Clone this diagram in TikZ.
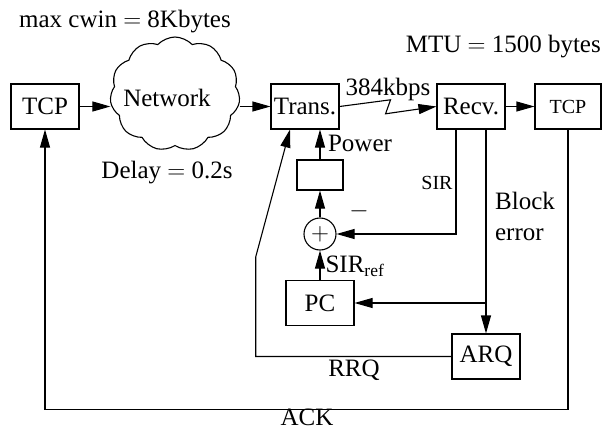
\documentclass[tikz,border=0pt]{standalone}
\usepackage{fontspec}
\setmainfont{Liberation Serif}
\usetikzlibrary{arrows.meta,shapes.symbols}
\tikzset{
  lnk/box/.style={
    draw,
    line width=1.1pt,
    align=center,
    minimum width=68pt,
    minimum height=45pt,
    inner sep=0pt,
    font=\fontsize{25}{28}\selectfont
  },
  lnk/smallbox/.style={lnk/box, font=\fontsize{20}{22}\selectfont},
  lnk/sum/.style={circle, draw, line width=1.1pt, minimum size=32pt, inner sep=0pt,
    font=\fontsize{30}{30}\selectfont},
  lnk/cloud/.style={cloud, cloud puffs=11, cloud puff arc=95, aspect=1.2, draw, line width=1.1pt,
    minimum width=130pt, minimum height=114pt, inner sep=0pt},
  lnk/arrow/.style={-{Triangle[length=18pt,width=10pt]}, line width=1.1pt},
  lnk/line/.style={line width=1.1pt},
  lnk/label/.style={font=\fontsize{25}{31}\selectfont, inner sep=0pt, align=left},
  lnk/smalllabel/.style={font=\fontsize{20}{22}\selectfont, inner sep=0pt}
}
\begin{document}
\begin{tikzpicture}[x=1pt,y=-1pt]
  \useasboundingbox (0,0) rectangle (603,431);
  % blocks
  \node[lnk/box] (tcpl) at (45,106.5) {TCP};
  \node[lnk/cloud] (net) at (175,94) {};
  \node[lnk/label] (nettext) at (167,98) {Network};
  \node[lnk/box] (trans) at (305,106.5) {Trans.};
  \node[lnk/box] (recv) at (471,106.5) {Recv.};
  \node[lnk/smallbox,minimum width=66pt] (tcpr) at (568,106.5) {TCP};
  \node[lnk/box,minimum width=46pt,minimum height=30pt] (gain) at (320,175) {};
  \node[lnk/sum] (sum) at (320,234) {$+$};
  \node[lnk/box] (pc) at (320,303) {PC};
  \node[lnk/box] (arq) at (486,356.5) {ARQ};
  \coordinate (rrqbend) at (255.7,257);
  \coordinate (ackbot) at (307,409.3);
  % labels
  \node[lnk/label] (cwin) at (125,22) {max cwin $=$ 8Kbytes};
  \node[lnk/label,anchor=east] (mtu) at (601,47) {MTU $=$ 1500 bytes};
  \node[lnk/label] (delay) at (167,173) {Delay $=$ 0.2s};
  \node[lnk/label] (rate) at (388,89) {384kbps};
  \node[lnk/label] (power) at (360,143) {Power};
  \node[lnk/smalllabel] (sir) at (437,183) {SIR};
  \node[lnk/label] (minus) at (359,211) {$-$};
  \node[lnk/label] (sirref) at (355,266) {SIR\textsubscript{ref}};
  \node[lnk/label] (blockerr) at (525,216) {Block\\error};
  \node[lnk/label] (rrq) at (354,370) {RRQ};
  \node[lnk/label] (ack) at (307,417) {ACK};
  % connectors
  \draw[lnk/arrow] (tcpl.east) -- (tcpl.east -| net.west);
  \draw[lnk/arrow] (trans.west -| net.east) -- (trans.west);
  \draw[lnk/arrow] (trans.east) -- ++(51,-6.7) -- ++(-5,14) -- (recv.west);
  \draw[lnk/arrow] (recv) -- (tcpr);
  \draw[lnk/arrow] (gain.north) -- (gain.north |- trans.south);
  \draw[lnk/arrow] (sum) -- (gain);
  \draw[lnk/arrow] ([xshift=-15pt]recv.south) |- (sum.east);
  \draw[lnk/arrow] ([xshift=15pt]recv.south) -- ([xshift=15pt]recv.south |- arq.north);
  \draw[lnk/arrow] (arq.north |- pc.east) -- (pc.east);
  \draw[lnk/arrow] (pc) -- (sum);
  \draw[lnk/arrow] (arq.west) -| (rrqbend) -- ([xshift=-15pt]trans.south);
  \draw[lnk/arrow] (tcpr.south) |- (ackbot) -| (tcpl.south);
\end{tikzpicture}
\end{document}
